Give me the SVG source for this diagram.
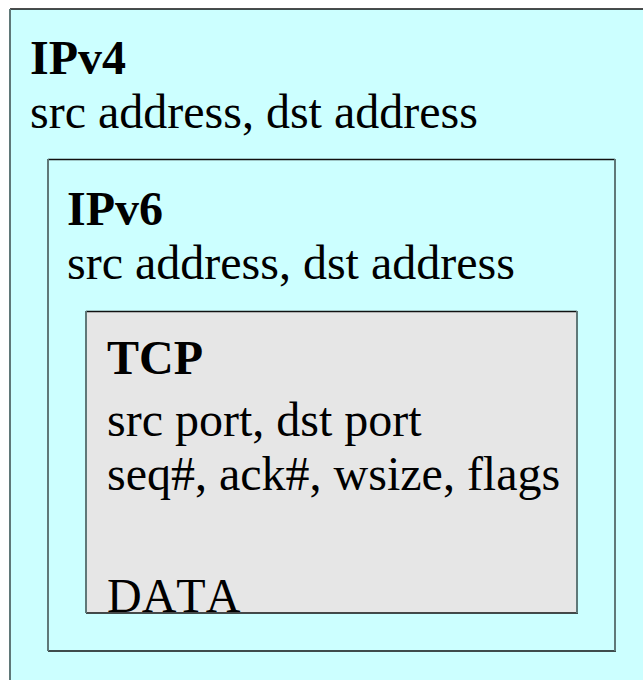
<svg xmlns="http://www.w3.org/2000/svg" width="643" height="680" viewBox="0 0 643 680">
  <style>
    .frame-h { stroke: #111; stroke-width: 1.5; fill: none; }
    .frame-v { stroke: #5f7878; stroke-width: 2; fill: none; }
    .cyan { fill: #ccffff; }
    .grey { fill: #e6e6e6; }
    .title { font-family: "Liberation Serif", "Times New Roman", serif; font-size: 48px; font-weight: bold; fill: #000; }
    .body { font-family: "Liberation Serif", "Times New Roman", serif; font-size: 48px; fill: #000; }
    .nokern { font-kerning: none; }
  </style>
  <rect width="643" height="680" fill="#ffffff"/>

  <!-- IPv4 header (outer envelope, runs off the right and bottom edges) -->
  <g id="ipv4">
    <rect class="cyan" x="10" y="9" width="640" height="680"/>
    <line class="frame-h" x1="10" y1="9" x2="650" y2="9"/>
    <line class="frame-v" x1="10" y1="9" x2="10" y2="690"/>
    <text class="title" x="30" y="74">IPv4</text>
    <text class="body" x="30" y="128">src address, dst address</text>
  </g>

  <!-- IPv6 header -->
  <g id="ipv6">
    <rect class="cyan" x="48" y="159" width="567" height="492"/>
    <line class="frame-h" x1="48" y1="159.5" x2="615" y2="159.5"/>
    <line class="frame-h" x1="48" y1="651" x2="616" y2="651"/>
    <line class="frame-v" x1="48" y1="159" x2="48" y2="651"/>
    <line class="frame-v" x1="615" y1="159" x2="615" y2="651"/>
    <text class="title" x="67" y="225">IPv6</text>
    <text class="body" x="67" y="279">src address, dst address</text>
  </g>

  <!-- TCP segment -->
  <g id="tcp">
    <rect class="grey" x="86" y="311" width="491" height="302"/>
    <line class="frame-h" x1="86" y1="311.5" x2="577" y2="311.5"/>
    <line class="frame-h" x1="86" y1="613" x2="578" y2="613"/>
    <line class="frame-v" x1="86" y1="311" x2="86" y2="613"/>
    <line class="frame-v" x1="577" y1="311" x2="577" y2="613"/>
    <text class="title" x="107" y="374">TCP</text>
    <text class="body" x="107" y="436">src port, dst port</text>
    <text class="body" x="107" y="490">seq#, ack#, wsize, flags</text>
    <text class="body nokern" x="107" y="612">DATA</text>
  </g>

  <g id="connectors"/>
</svg>
